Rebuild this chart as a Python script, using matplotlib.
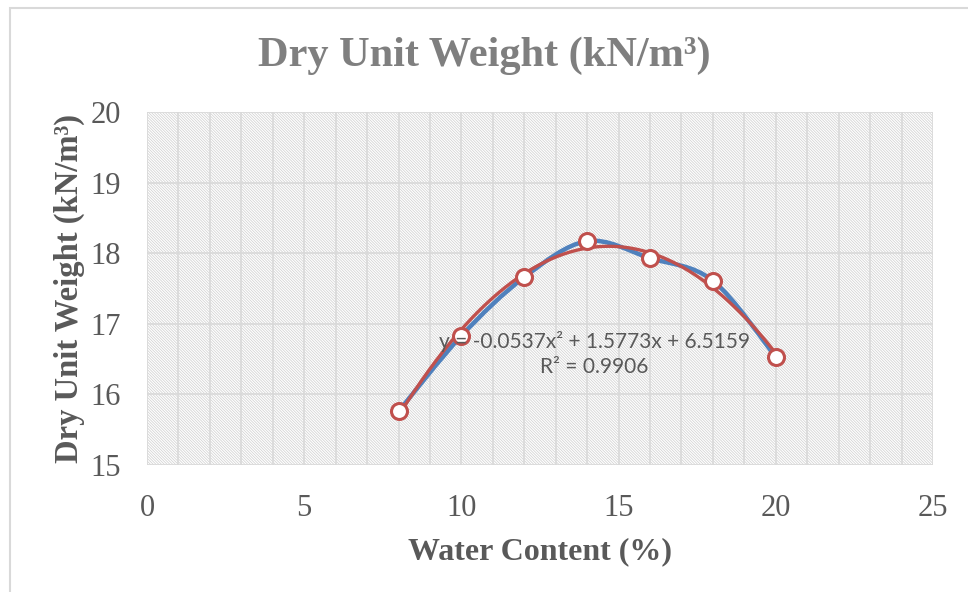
import numpy as np
import matplotlib.pyplot as plt
from matplotlib.path import Path
from matplotlib.patches import PathPatch, Rectangle

# Données
water_content = [8, 10, 12, 14, 16, 18, 20]
dry_unit_weight = [15.76, 16.83, 17.66, 18.17, 17.93, 17.61, 16.53]

# Courbe de tendance polynomiale (affichée sur le graphique)
trend_coef = [-0.0537, 1.5773, 6.5159]
trend_label = "y = -0.0537x² + 1.5773x + 6.5159\nR² = 0.9906"

x_ticks = [0, 5, 10, 15, 20, 25]
y_ticks = [15, 16, 17, 18, 19, 20]

serif = ['Liberation Serif', 'DejaVu Serif']
plt.rcParams['hatch.linewidth'] = 0.55

fig = plt.figure(figsize=(9.68, 5.92), dpi=100)
ax = fig.add_axes([147 / 968, 1 - 465 / 592, (933 - 147) / 968, (465 - 112) / 592])

# cadre du graphique
fig.patches.append(Rectangle((10 / 968, -0.1), 1.2, 1 - 8 / 592 + 0.1, transform=fig.transFigure,
                             fill=False, edgecolor='#d9d9d9', lw=1.5))

# fond hachuré de la zone de tracé
ax.add_patch(Rectangle((0, 0), 1, 1, transform=ax.transAxes, facecolor='white',
                       edgecolor='#d2d2d2', hatch='\\\\' * 6, lw=0, zorder=0))

ax.set_xlim(0, 25)
ax.set_ylim(15, 20)
ax.set_xticks(x_ticks)
ax.set_yticks(y_ticks)
ax.set_xticks(np.arange(0, 26, 1), minor=True)
ax.grid(True, which='major', color='#d9d9d9', lw=1.2, zorder=1)
ax.grid(True, which='minor', axis='x', color='#d9d9d9', lw=1.2, zorder=1)
ax.tick_params(which='both', length=0, labelsize=22, labelcolor='#595959')
ax.tick_params(axis='y', pad=19)
ax.tick_params(axis='x', pad=21)
for lab in ax.get_xticklabels() + ax.get_yticklabels():
    lab.set_family(serif)
for s in ax.spines.values():
    s.set_visible(False)

# ligne lissée (style Excel) passant par les points
pts = np.column_stack([water_content, dry_unit_weight])
verts = [pts[0]]
codes = [Path.MOVETO]
for i in range(len(pts) - 1):
    p0 = pts[max(i - 1, 0)]
    p1 = pts[i]
    p2 = pts[i + 1]
    p3 = pts[min(i + 2, len(pts) - 1)]
    verts += [p1 + (p2 - p0) / 6, p2 - (p3 - p1) / 6, p2]
    codes += [Path.CURVE4] * 3
ax.add_patch(PathPatch(Path(verts, codes), facecolor='none', edgecolor='#4f81bd',
                       lw=3.2, capstyle='round', zorder=3))

# courbe de tendance
xt = np.linspace(min(water_content), max(water_content), 200)
ax.plot(xt, np.polyval(trend_coef, xt), color='#c0504d', lw=2.4, zorder=4)

ax.plot(water_content, dry_unit_weight, 'o', ms=11.5, mfc='white', mec='#c0504d',
        mew=2.2, zorder=5)

ax.text(14.22, 16.57, trend_label, ha='center', va='center', fontsize=15,
        color='#595959', family=['Lato', 'DejaVu Sans'], linespacing=1.3, zorder=6)

fig.text(0.5, 1 - 56 / 592, "Dry Unit Weight (kN/m³)", ha='center', va='center',
         fontsize=30.5, fontweight='bold', color='#7f7f7f', family=serif)
ax.set_xlabel("Water Content (%)", fontsize=23, fontweight='bold', color='#595959',
              family=serif, labelpad=10)
ax.set_ylabel("Dry Unit Weight (kN/m³)", fontsize=23.5, fontweight='bold', color='#595959',
              family=serif, labelpad=4)

fig.savefig('out.png', dpi=100)
